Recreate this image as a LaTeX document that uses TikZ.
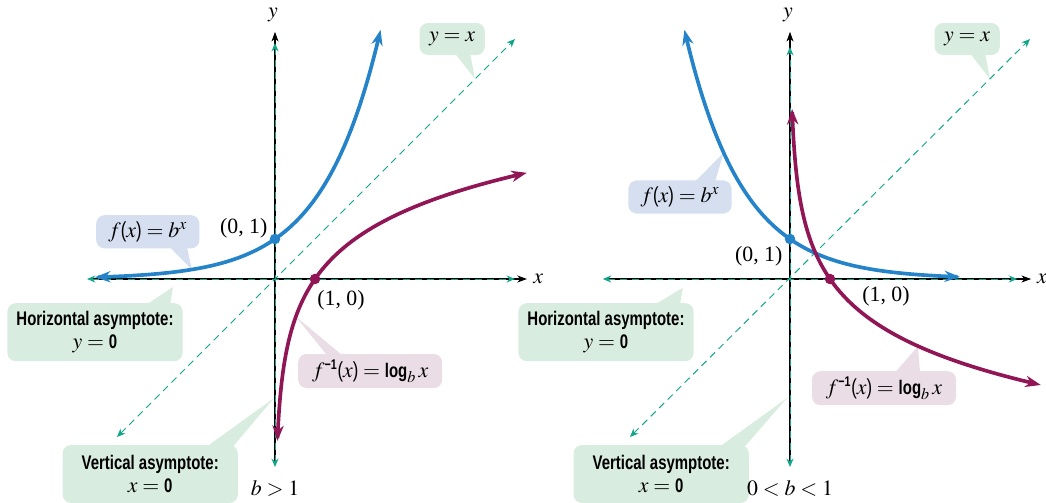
\documentclass[tikz,border=0pt]{standalone}
\usepackage{mathptmx}
\usepackage[no-math]{fontspec}
\setmainfont{Liberation Serif}
\newfontfamily\asyfont[FakeStretch=0.76]{Liberation Sans}
\usetikzlibrary{arrows.meta}

\definecolor{curveblue}{RGB}{37,131,201}
\definecolor{curvepurple}{RGB}{145,22,86}
\definecolor{asyteal}{RGB}{17,166,140}
\definecolor{boxblue}{RGB}{213,223,240}
\definecolor{boxgreen}{RGB}{217,236,224}
\definecolor{boxpurple}{RGB}{234,221,229}

\newcommand{\lbl}{\fontsize{15.5}{16.5}\selectfont}
\newcommand{\asyb}[1]{{\fontsize{14}{16.5}\selectfont\asyfont\bfseries #1}}
\newcommand{\asyr}[1]{{\fontsize{15.5}{16.5}\selectfont\asyfont #1}}
\newcommand{\finv}{f^{\mbox{\fontsize{10}{10}\selectfont\asyfont\bfseries −1}}}

\tikzset{
  bubble/.style={rounded corners=6pt, inner sep=2pt, font=\lbl, align=center},
  axisline/.style={line width=0.8pt, -{Stealth[length=7pt,width=5pt]}},
  asymline/.style={asyteal, line width=0.7pt, dash pattern=on 5pt off 3.5pt,
    {Stealth[length=6pt,width=5pt]}-{Stealth[length=6pt,width=5pt]}},
  graphline/.style={line width=2.6pt, line cap=round,
    {Stealth[length=11pt,width=8pt,inset=3.5pt]}-{Stealth[length=11pt,width=8pt,inset=3.5pt]}},
  dot/.style={circle, inner sep=0pt, minimum size=7.5pt}
}

\begin{document}
\begin{tikzpicture}
\useasboundingbox (-6.875,-5.575) rectangle (19.275,6.975);

% b > 1
\node[bubble, fill=boxblue, minimum width=2.58cm, minimum height=0.83cm] (fbl) at (-3.18,1.18)
  {$f\mbox{\asyr{(}}x\mbox{\asyr{)}} = b^x$};
\coordinate (tfbl) at (-2.08,0.24);
\fill[boxblue] ([xshift=0.55cm,yshift=1pt]fbl.south) -- (tfbl) -- ([xshift=0.98cm,yshift=1pt]fbl.south) -- cycle;

\node[bubble, fill=boxgreen, minimum width=4.38cm, minimum height=1.45cm] (hal) at (-4.5,-1.33)
  {\asyb{Horizontal asymptote:}\\$y = \mbox{\asyb{0}}$};
\coordinate (thal) at (-2.55,-0.2);
\fill[boxgreen] ([xshift=1.3cm,yshift=-1pt]hal.north) -- (thal) -- ([xshift=1.88cm,yshift=-1pt]hal.north) -- cycle;

\node[bubble, fill=boxgreen, minimum width=1.63cm, minimum height=0.8cm] (yxl) at (4.43,6.0) {$y = x$};
\coordinate (tyxl) at (5.0,5.0);
\fill[boxgreen] ([xshift=0.08cm,yshift=1pt]yxl.south) -- (tyxl) -- ([xshift=0.45cm,yshift=1pt]yxl.south) -- cycle;

\node[bubble, fill=boxpurple, minimum width=3.6cm, minimum height=0.85cm] (fil) at (2.38,-2.3)
  {$\finv\mbox{\asyr{(}}x\mbox{\asyr{)}} = \mbox{\asyb{log}}_b\, x$};
\coordinate (tfil) at (0.52,-0.94);
\fill[boxpurple] ([xshift=-1.08cm,yshift=-1pt]fil.north) -- (tfil) -- ([xshift=-0.7cm,yshift=-1pt]fil.north) -- cycle;

\node[bubble, fill=boxgreen, minimum width=4.38cm, minimum height=1.45cm] (val) at (-3.12,-4.875)
  {\asyb{Vertical asymptote:}\\$x = \mbox{\asyb{0}}$};
\coordinate (tval) at (-0.03,-2.98);
\fill[boxgreen] ([xshift=1.43cm,yshift=-1pt]val.north) -- (tval) -- ([xshift=2.08cm,yshift=-1pt]val.north) -- cycle;

\draw[axisline] (-4.6,0) -- (6.3,0);
\draw[axisline] (0,-4.6) -- (0,6.18);
\draw[asymline] (-4.7,0) -- (6.0,0);
\draw[asymline] (0,-4.7) -- (0,5.9);
\draw[asymline] (-3.95,-3.95) -- (6.0,6.0);
\node at (6.58,0) {\lbl$x$};
\node at (-0.05,6.6) {\lbl$y$};

\draw[graphline, curveblue] plot[domain=-4.5:2.64, samples=90, smooth] (\x,{exp(0.6931*\x)});
\draw[graphline, curvepurple] plot[domain=-4.05:2.655, samples=90, smooth] ({exp(0.6931*\x)},\x);
\node[dot, fill=curveblue] (p01l) at (0,1) {};
\node[dot, fill=curvepurple] (p10l) at (1,0) {};
\node at (-0.78,1.28) {\lbl(0, 1)};
\node at (1.65,-0.52) {\lbl(1, 0)};
\node at (0,-5.24) {\lbl$b > 1$};

% 0 < b < 1
\begin{scope}[shift={(12.875,0)}]
\node[bubble, fill=boxblue, minimum width=2.58cm, minimum height=0.83cm] (fbr) at (-2.75,2.05)
  {$f\mbox{\asyr{(}}x\mbox{\asyr{)}} = b^x$};
\coordinate (tfbr) at (-1.66,3.16);
\fill[boxblue] ([xshift=0.38cm,yshift=-1pt]fbr.north) -- (tfbr) -- ([xshift=0.88cm,yshift=-1pt]fbr.north) -- cycle;

\node[bubble, fill=boxgreen, minimum width=4.38cm, minimum height=1.45cm] (har) at (-4.6,-1.33)
  {\asyb{Horizontal asymptote:}\\$y = \mbox{\asyb{0}}$};
\coordinate (thar) at (-2.68,-0.22);
\fill[boxgreen] ([xshift=1.23cm,yshift=-1pt]har.north) -- (thar) -- ([xshift=1.85cm,yshift=-1pt]har.north) -- cycle;

\node[bubble, fill=boxgreen, minimum width=1.63cm, minimum height=0.8cm] (yxr) at (4.43,6.0) {$y = x$};
\coordinate (tyxr) at (5.0,5.0);
\fill[boxgreen] ([xshift=0.08cm,yshift=1pt]yxr.south) -- (tyxr) -- ([xshift=0.45cm,yshift=1pt]yxr.south) -- cycle;

\node[bubble, fill=boxpurple, minimum width=3.6cm, minimum height=0.85cm] (fir) at (2.35,-2.73)
  {$\finv\mbox{\asyr{(}}x\mbox{\asyr{)}} = \mbox{\asyb{log}}_b\, x$};
\coordinate (tfir) at (3.2,-1.68);
\fill[boxpurple] ([xshift=0.28cm,yshift=-1pt]fir.north) -- (tfir) -- ([xshift=0.9cm,yshift=-1pt]fir.north) -- cycle;

\node[bubble, fill=boxgreen, minimum width=4.38cm, minimum height=1.45cm] (var) at (-3.22,-4.875)
  {\asyb{Vertical asymptote:}\\$x = \mbox{\asyb{0}}$};
\coordinate (tvar) at (-0.08,-2.98);
\fill[boxgreen] ([xshift=1.48cm,yshift=-1pt]var.north) -- (tvar) -- ([xshift=2.1cm,yshift=-1pt]var.north) -- cycle;

\draw[axisline] (-4.6,0) -- (6.03,0);
\draw[axisline] (0,-4.6) -- (0,6.18);
\draw[asymline] (-4.68,0) -- (5.68,0);
\draw[asymline] (0,-4.7) -- (0,5.8);
\draw[asymline] (-4.0,-3.95) -- (6.0,6.0);
\node at (6.3,0) {\lbl$x$};
\node at (-0.05,6.6) {\lbl$y$};

\draw[graphline, curveblue] plot[domain=-2.64:4.25, samples=90, smooth] (\x,{exp(-0.6931*\x)});
\draw[graphline, curvepurple] plot[domain=4.25:-2.65, samples=90, smooth] ({exp(-0.6931*\x)},\x);
\node[dot, fill=curveblue] (p01r) at (0,1) {};
\node[dot, fill=curvepurple] (p10r) at (1,0) {};
\node at (-0.78,0.58) {\lbl(0, 1)};
\node at (2.4,-0.42) {\lbl(1, 0)};
\node at (0,-5.24) {\lbl$0 < b < 1$};
\end{scope}

\end{tikzpicture}
\end{document}
